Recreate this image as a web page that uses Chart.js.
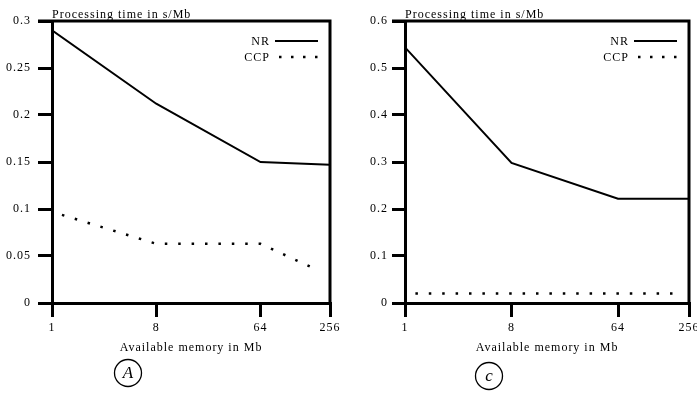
<!DOCTYPE html>
<html>
<head>
<meta charset="utf-8">
<script src="https://cdn.jsdelivr.net/npm/chart.js@4.4.0/dist/chart.umd.min.js"></script>
<style>
html, body { margin: 0; padding: 0; background: #fff; }
body { width: 697px; height: 396px; position: relative; overflow: hidden; }
canvas { position: absolute; top: 0; }
#chartA { left: 0; }
#chartC { left: 350px; }
</style>
</head>
<body>
<canvas id="chartA" width="348" height="396"></canvas>
<canvas id="chartC" width="347" height="396"></canvas>
<script>
// available memory (Mb), log scale on x
const memoryMb = [1, 8, 64, 256];
const memoryTicks = [1, 8, 64, 256];

// panel A
const nrA = [0.290, 0.212, 0.150, 0.147];
const ccpMemoryA = [1, 8, 64, 200];
const ccpA = [0.097, 0.063, 0.063, 0.035];
const yTicksA = [0, 0.05, 0.1, 0.15, 0.2, 0.25, 0.3];

// panel c
const nrC = [0.544, 0.298, 0.222, 0.222];
const ccpMemoryC = [1, 8, 64, 224];
const ccpC = [0.02, 0.02, 0.02, 0.02];
const yTicksC = [0, 0.1, 0.2, 0.3, 0.4, 0.5, 0.6];

const seriesNames = ['NR', 'CCP'];

const FONT = '"Liberation Serif", "Times New Roman", serif';
const tickFont = { family: FONT, size: 12 };

// frame, title, legend and panel mark
const decoPlugin = {
    id: 'deco',
    beforeDraw(chart) {
        chart.ctx.letterSpacing = '1px';
    },
    afterDraw(chart, args, opts) {
        const ctx = chart.ctx;
        const a = chart.chartArea;
        ctx.save();
        ctx.strokeStyle = '#000';
        ctx.fillStyle = '#000';
        ctx.lineWidth = 3;
        ctx.beginPath();
        ctx.moveTo(a.left - opts.tick, a.top);
        ctx.lineTo(a.right, a.top);
        ctx.lineTo(a.right, a.bottom);
        ctx.stroke();

        ctx.font = '12px ' + FONT;
        ctx.textAlign = 'left';
        ctx.textBaseline = 'alphabetic';
        ctx.fillText('Processing time in s/Mb', a.left, a.top - 3);

        // legend: text on the left, line sample on the right
        chart.data.datasets.forEach((ds, i) => {
            const y = a.top + 20 + i * 16;
            ctx.textAlign = 'right';
            ctx.textBaseline = 'middle';
            ctx.fillText(ds.label, a.right - 60, y + 1);
            ctx.save();
            ctx.lineWidth = ds.borderWidth;
            if (ds.borderDash) {
                ctx.setLineDash([2.5, 9.5]);
                ctx.lineDashOffset = 8;
            }
            ctx.beginPath();
            ctx.moveTo(a.right - 55, y);
            ctx.lineTo(a.right - 12, y);
            ctx.stroke();
            ctx.restore();
        });

        ctx.letterSpacing = '0px';
        ctx.lineWidth = 1.3;
        ctx.beginPath();
        ctx.arc(opts.mark.x, opts.mark.y, 13.5, 0, Math.PI * 2);
        ctx.stroke();
        ctx.font = 'italic 17px ' + FONT;
        ctx.textAlign = 'center';
        ctx.textBaseline = 'middle';
        ctx.fillText(opts.mark.text, opts.mark.x, opts.mark.y + 1);
        ctx.restore();
    }
};

function makeChart(id, nr, ccpMemory, ccp, yTicks, yWidth, tickLen, tickPad, padRight, mark) {
    const ctx = document.getElementById(id).getContext('2d');
    return new Chart(ctx, {
        type: 'line',
        data: {
            datasets: [{
                label: seriesNames[0],
                data: memoryMb.map((m, i) => ({ x: m, y: nr[i] })),
                borderColor: '#000',
                borderWidth: 2,
                pointRadius: 0,
                tension: 0,
                fill: false
            }, {
                label: seriesNames[1],
                data: ccpMemory.map((m, i) => ({ x: m, y: ccp[i] })),
                borderColor: '#000',
                borderWidth: 2.5,
                borderDash: [2.5, 10.9],
                borderDashOffset: 3,
                pointRadius: 0,
                tension: 0,
                fill: false
            }]
        },
        options: {
            responsive: false,
            animation: false,
            layout: { padding: { top: 21, right: padRight, bottom: 0, left: 0 } },
            plugins: {
                legend: { display: false },
                tooltip: { enabled: false },
                deco: { tick: tickLen, mark: mark }
            },
            scales: {
                x: {
                    type: 'logarithmic',
                    min: 1,
                    max: 256,
                    afterBuildTicks: s => { s.ticks = memoryTicks.map(v => ({ value: v })); },
                    afterFit: s => { s.height = 93; s.paddingLeft = 0; s.paddingRight = 0; },
                    ticks: {
                        color: '#000', font: tickFont, padding: 4,
                        maxRotation: 0, autoSkip: false,
                        callback: v => String(v)
                    },
                    grid: { drawOnChartArea: false, color: '#000', lineWidth: 3, tickLength: 14 },
                    border: { color: '#000', width: 3 },
                    title: {
                        display: true, text: 'Available memory in Mb', color: '#000',
                        font: { family: FONT, size: 12 },
                        padding: { top: 0, bottom: 41 }
                    }
                },
                y: {
                    min: 0,
                    max: yTicks[yTicks.length - 1],
                    afterBuildTicks: s => { s.ticks = yTicks.map(v => ({ value: v })); },
                    afterFit: s => { s.width = yWidth; },
                    ticks: { color: '#000', font: tickFont, padding: tickPad, callback: v => String(v) },
                    grid: { drawOnChartArea: false, color: '#000', lineWidth: 3, tickLength: tickLen },
                    border: { color: '#000', width: 3 }
                }
            }
        },
        plugins: [decoPlugin]
    });
}

makeChart('chartA', nrA, ccpMemoryA, ccpA, yTicksA, 52, 14, 7, 18, { x: 128, y: 373, text: 'A' });
makeChart('chartC', nrC, ccpMemoryC, ccpC, yTicksC, 55, 13, 4, 8, { x: 139, y: 376, text: 'c' });
</script>
</body>
</html>
